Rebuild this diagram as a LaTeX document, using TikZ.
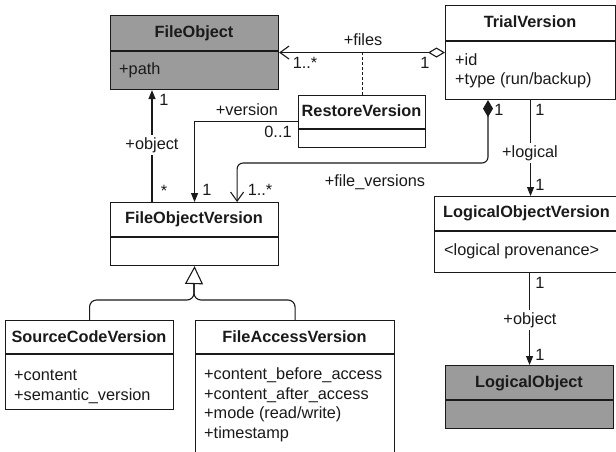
\documentclass[tikz,border=0pt]{standalone}
\usepackage{fontspec}
\setmainfont{Liberation Sans}
\usetikzlibrary{arrows.meta}
\definecolor{boxgray}{HTML}{9B9B9B}
\definecolor{ink}{HTML}{1A1A1A}
\tikzset{
  cls/.style={draw=ink, line width=1.1pt, inner sep=0pt, anchor=north west},
  ttl/.style={font=\fontsize{16.3}{19}\selectfont\bfseries, inner sep=0pt, text=ink},
  attr/.style={font=\fontsize{16.3}{19}\selectfont, inner sep=0pt, anchor=west, text=ink},
  lbl/.style={font=\fontsize{16.3}{19}\selectfont, inner sep=1pt, text=ink},
  lblbg/.style={lbl, fill=white, inner sep=2pt},
  conn/.style={draw=ink, line width=1.1pt},
  fhead/.style={-{Triangle[length=9pt,width=7pt]}},
  ohead/.style={-{Straight Barb[length=9pt,width=13pt]}},
}
\begin{document}
\begin{tikzpicture}[x=1pt,y=-1pt]
\clip (0,0) rectangle (616,451);
\fill[white] (0,0) rectangle (616,451);
% FileObject
\node[cls, fill=boxgray, minimum width=168pt, minimum height=74pt] (fo) at (110,15) {};
\draw[ink, line width=1.1pt] (110,51) -- (278,51);
\node[ttl] (fot) at (194,33) {FileObject};
\node[attr] (foa) at (119,70) {+path};
% TrialVersion
\node[cls, fill=white, minimum width=170pt, minimum height=94pt] (tv) at (445,5) {};
\draw[ink, line width=1.1pt] (445,41) -- (615,41);
\node[ttl] (tvt) at (530,22) {TrialVersion};
\node[attr] (tva) at (455,60) {+id};
\node[attr] (tvb) at (455,80) {+type (run/backup)};
% RestoreVersion
\node[cls, fill=white, minimum width=127pt, minimum height=52pt] (rv) at (298,95) {};
\draw[ink, line width=1.1pt] (298,129) -- (425,129);
\node[ttl] (rvt) at (361.5,111) {RestoreVersion};
% FileObjectVersion
\node[cls, fill=white, minimum width=168pt, minimum height=63pt] (fov) at (110,202) {};
\draw[ink, line width=1.1pt] (110,237) -- (278,237);
\node[ttl] (fovt) at (194,219) {FileObjectVersion};
% SourceCodeVersion
\node[cls, fill=white, minimum width=168pt, minimum height=89pt] (scv) at (5,320) {};
\draw[ink, line width=1.1pt] (5,354) -- (173,354);
\node[ttl] (scvt) at (89,337) {SourceCodeVersion};
\node[attr] (scva) at (14,375) {+content};
\node[attr] (scvb) at (14,396) {+semantic\_version};
% FileAccessVersion
\node[cls, fill=white, minimum width=199pt, minimum height=140pt] (fav) at (195,320) {};
\draw[ink, line width=1.1pt] (195,354) -- (394,354);
\node[ttl] (favt) at (294.5,337) {FileAccessVersion};
\node[attr] (fava) at (204,375) {+content\_before\_access};
\node[attr] (favb) at (204,395) {+content\_after\_access};
\node[attr] (favc) at (204,414.5) {+mode (read/write)};
\node[attr] (favd) at (204,434) {+timestamp};
% LogicalObjectVersion
\node[cls, fill=white, minimum width=192pt, minimum height=76pt] (lov) at (434,196) {};
\draw[ink, line width=1.1pt] (434,231) -- (626,231);
\node[ttl, anchor=west] (lovt) at (443,213) {LogicalObjectVersion};
\node[attr] (lova) at (444,251) {<logical provenance>};
% LogicalObject
\node[cls, fill=boxgray, minimum width=168pt, minimum height=63pt] (lo) at (445,365) {};
\draw[ink, line width=1.1pt] (445,400) -- (613,400);
\node[ttl] (lot) at (529,383) {LogicalObject};

% Connectors
\draw[conn, {Diamond[open,length=17pt,width=10pt]}-{Straight Barb[length=9pt,width=13pt]}] (tv.west) -- (fo.east);
\draw[conn, dashed, dash pattern=on 3pt off 2pt] (rv.north) -- (rv.north |- tv.west);
\draw[conn, fhead] (rv.west) -| (fov.north);
\draw[conn, fhead] ([xshift=42pt]fov.north west) -- ([xshift=42pt]fo.south west);
\draw[conn, {Diamond[length=17pt,width=10pt]}-{Straight Barb[length=9pt,width=13pt]}, rounded corners=6pt] ([xshift=43pt]tv.south west) |- (300,163) -| ([xshift=-42pt]fov.north east);
\draw[conn, fhead] (tv.south) -- (tv.south |- lov.north);
\draw[conn, fhead] (lo.north |- lov.south) -- (lo.north);
\coordinate (gj) at (194,300);
\draw[conn, rounded corners=7pt] (scv.north) |- (gj) -- (194,284);
\draw[conn, rounded corners=7pt] (fav.north) |- (gj) -- (194,284);
\draw[conn, -{Triangle[open,length=18pt,width=18pt]}] (194,284.5) -- (fov.south);

% Labels
\node[lbl] (l1) at (363,40) {+files};
\node[lbl] (l2) at (305,63) {1..*};
\node[lbl] (l3) at (425,63) {1};
\node[lbl] (l4) at (247,110) {+version};
\node[lbl] (l5) at (278,132) {0..1};
\node[lbl] (l6) at (164,100) {1};
\node[lblbg] (l7) at (152,145) {+object};
\node[lbl] (l8) at (164,191) {*};
\node[lbl] (l9) at (207,190) {1};
\node[lbl] (l10) at (260,190) {1..*};
\node[lbl] (l11) at (499,110) {1};
\node[lbl] (l12) at (540,110) {1};
\node[lblbg] (l13) at (530,153) {+logical};
\node[lbl] (l14) at (375,182) {+file\_versions};
\node[lbl] (l15) at (540,185) {1};
\node[lbl] (l16) at (540,283) {1};
\node[lblbg] (l17) at (530,320) {+object};
\node[lbl] (l18) at (540,355) {1};
\end{tikzpicture}
\end{document}
